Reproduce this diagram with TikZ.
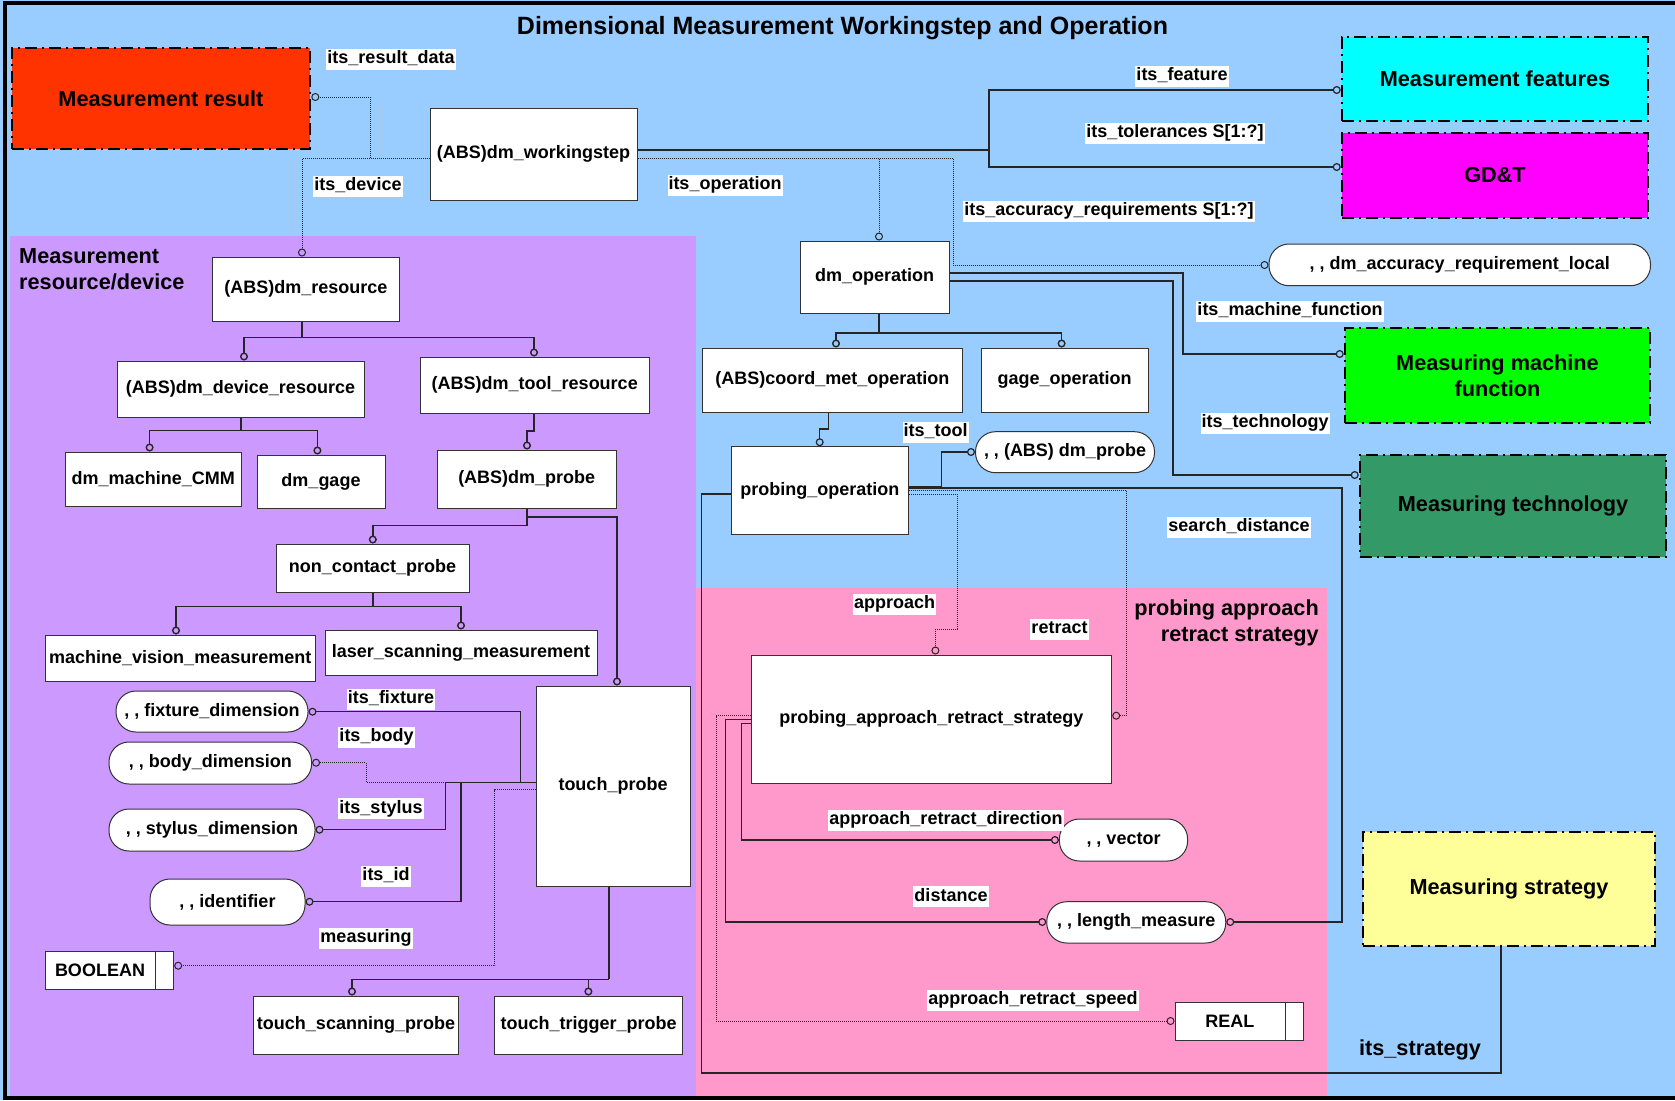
\documentclass[tikz,border=0pt]{standalone}
\usepackage{fontspec}
\setmainfont{Liberation Sans}
\usetikzlibrary{arrows.meta}
\definecolor{bgblue}{HTML}{99CCFF}
\definecolor{bgpurple}{HTML}{CC99FF}
\definecolor{bgpink}{HTML}{FF99CC}
\definecolor{cred}{HTML}{FF3300}
\definecolor{ccyan}{HTML}{00FFFF}
\definecolor{cmag}{HTML}{FF00FF}
\definecolor{cgreen}{HTML}{00FF00}
\definecolor{cdgreen}{HTML}{339966}
\definecolor{cyellow}{HTML}{FFFF99}
\newcommand\fsmallx{\fontsize{18}{21}\selectfont\bfseries}
\newcommand\fbigx{\fontsize{21.7}{26}\selectfont\bfseries}
\newcommand\ftitlex{\fontsize{25}{30}\selectfont\bfseries}
\tikzset{
 box/.style={draw=black!80, fill=white, line width=1pt, inner sep=0pt, font=\fsmallx},
 stad/.style={box, rounded corners=20pt},
 bigbox/.style={draw=black, line width=2.6pt, dash pattern=on 12pt off 5pt on 2pt off 5pt, inner sep=0pt, font=\fbigx, align=center},
 lab/.style={fill=white, inner xsep=1pt, inner ysep=1pt, text height=14pt, text depth=5pt, font=\fsmallx},
 sline/.style={draw=black!85, line width=1.2pt},
 dline/.style={draw=black!85, line width=1pt, dash pattern=on 1pt off 1pt},
 tline/.style={draw=black!85, line width=1.4pt},
 tstem/.style={draw=black!85, line width=2pt},
 cend/.style={-{Circle[open, length=8pt, width=8pt]}},
}
\begin{document}
\begin{tikzpicture}[x=1pt,y=-1pt]
\useasboundingbox (0,0) rectangle (1675,1100);
% backgrounds
\fill[bgblue] (0,0) rectangle (1675,1100);
\fill[bgpurple] (10,236) rectangle (696,1097);
\fill[bgpink] (696,588) rectangle (1327,1097);
\draw[black, line width=4pt] (1675,3) -- (5,3) -- (5,1098) -- (1675,1098);

% title and group labels
\node[font=\ftitlex, anchor=base, inner sep=0pt] (title) at (842.5,34.5) {Dimensional Measurement Workingstep and Operation};
\node[font=\fbigx, align=left, anchor=north west, inner sep=0pt] (grpres) at (19,248) {Measurement\\resource/device};
\node[font=\fbigx, align=right, anchor=north east, inner sep=0pt] (grppars) at (1319,600) {probing approach\\retract strategy};

% big dashed boxes
\node[bigbox, fill=cred, minimum width=298, minimum height=101] (mres) at (161,98.5) {Measurement result};
\node[bigbox, fill=ccyan, minimum width=306, minimum height=84] (mfeat) at (1495,79) {Measurement features};
\node[bigbox, fill=cmag, minimum width=306, minimum height=85] (gdt) at (1495,175.5) {GD\&T};
\node[bigbox, fill=cgreen, minimum width=305, minimum height=95] (mmf) at (1497.5,375.5) {Measuring machine\\function};
\node[bigbox, fill=cdgreen, minimum width=306, minimum height=102] (mtech) at (1513,506) {Measuring technology};
\node[bigbox, fill=cyellow, minimum width=292, minimum height=114] (mstrat) at (1509,889) {Measuring strategy};

% entity boxes
\node[box, minimum width=207, minimum height=92] (ws) at (533.5,154) {(ABS)dm\_workingstep};
\node[box, minimum width=187, minimum height=64] (res) at (306,289) {(ABS)dm\_resource};
\node[box, minimum width=247, minimum height=56] (devres) at (240.5,389) {(ABS)dm\_device\_resource};
\node[box, minimum width=228.5, minimum height=56] (toolres) at (534.75,385) {(ABS)dm\_tool\_resource};
\node[box, minimum width=176.5, minimum height=54] (cmm) at (153.25,479) {dm\_machine\_CMM};
\node[box, minimum width=128, minimum height=53] (gage) at (321,481.5) {dm\_gage};
\node[box, minimum width=179.5, minimum height=58] (probe) at (526.75,479) {(ABS)dm\_probe};
\node[box, minimum width=193, minimum height=48] (ncp) at (372.5,568) {non\_contact\_probe};
\node[box, minimum width=269.5, minimum height=46] (mvm) at (180.25,658) {machine\_vision\_measurement};
\node[box, minimum width=272, minimum height=45] (lsm) at (461,652.5) {laser\_scanning\_measurement};
\node[box, minimum width=154, minimum height=200] (tp) at (613,786) {touch\_probe};
\node[box, minimum width=205, minimum height=58] (tsp) at (356,1025) {touch\_scanning\_probe};
\node[box, minimum width=188, minimum height=58] (ttp) at (588.6,1025) {touch\_trigger\_probe};
\node[box, minimum width=149, minimum height=72] (dmop) at (874.5,277) {dm\_operation};
\node[box, minimum width=259.3, minimum height=64] (cmo) at (832.35,380) {(ABS)coord\_met\_operation};
\node[box, minimum width=167, minimum height=64] (gop) at (1064.5,380) {gage\_operation};
\node[box, minimum width=177.6, minimum height=88] (pop) at (819.8,490.7) {probing\_operation};
\node[box, minimum width=360.7, minimum height=128] (pars) at (931.35,719) {probing\_approach\_retract\_strategy};

% stadium (defined type) boxes
\node[stad, minimum width=192, minimum height=41] (fix) at (212,711.5) {, , fixture\_dimension};
\node[stad, minimum width=202.6, minimum height=42] (body) at (210.3,763) {, , body\_dimension};
\node[stad, minimum width=206, minimum height=42] (styl) at (212,830) {, , stylus\_dimension};
\node[stad, minimum width=155, minimum height=46] (ident) at (227.5,902) {, , identifier};
\node[stad, minimum width=179, minimum height=41] (absprobe) at (1065,452.2) {, , (ABS) dm\_probe};
\node[stad, minimum width=381.5, minimum height=41.7] (acc) at (1459.75,264.85) {, , dm\_accuracy\_requirement\_local};
\node[stad, minimum width=128.2, minimum height=42] (vec) at (1123.5,840) {, , vector};
\node[stad, minimum width=179, minimum height=41.3] (lm) at (1136.25,922.35) {, , length\_measure};

% simple type boxes
\node[box, minimum width=128.2, minimum height=38] (bool) at (109.6,970) {\makebox[109pt]{BOOLEAN}\rule{19.2pt}{0pt}};
\draw[draw=black!80, line width=1pt] ([xshift=-19.2pt]bool.north east) -- ([xshift=-19.2pt]bool.south east);
\node[box, minimum width=128.7, minimum height=38.7] (real) at (1239.35,1021.35) {\makebox[109.7pt]{REAL}\rule{19pt}{0pt}};
\draw[draw=black!80, line width=1pt] ([xshift=-19pt]real.north east) -- ([xshift=-19pt]real.south east);

% ---- connectors from workingstep
\draw[dline, cend] ([yshift=-4pt]ws.west) -| (370,97) -- (mres.east |- 0,97);
\draw[dline, cend] ([yshift=-4pt]ws.west) -| (res.north -| 302,0);
\draw[sline, cend] ([yshift=4pt]ws.east) -| (989,90) -- (mfeat.west |- 0,90);
\draw[sline, cend] ([yshift=4pt]ws.east) -| (989,167) -- (gdt.west |- 0,167);
\draw[dline, cend] ([yshift=-4pt]ws.east) -| (dmop.north -| 879,0);
\draw[dline, cend] ([yshift=-4pt]ws.east) -| (953,265) -- (acc.west |- 0,265);

% ---- from dm_operation
\draw[sline, cend] ([yshift=4pt]dmop.east) -| (1183,354) -- (mmf.west |- 0,354);
\draw[sline, cend] ([yshift=-4pt]dmop.east) -| (1173,475) -- (mtech.west |- 0,475);
\coordinate (opj) at (879,333);
\draw[tstem] (dmop.south -| opj) -- (opj);
\draw[tline, cend] (opj) -| (cmo.north -| 836,0);
\draw[tline, cend] (opj) -| (gop.north -| 1061.6,0);
\draw[sline, cend] (cmo.south -| 828.7,0) -- (828.7,429) -- (819.7,429) -- (pop.north -| 819.7,0);

% ---- from probing_operation
\draw[sline, cend] ([yshift=4pt]pop.east) -| (941.6,452) -- (absprobe.west |- 0,452);
\draw[sline, cend] ([yshift=2.7pt]pop.east) -| (1342,922) -- (lm.east |- 0,922);
\draw[dline, cend] ([yshift=0.7pt]pop.east) -| (1126.4,715.7) -- (pars.east |- 0,715.7);
\draw[dline, cend] ([yshift=-3.3pt]pop.east) -| (957,629) -| (pars.north -| 935.4,0);
\draw[sline] ([yshift=-3.3pt]pop.west) -| (701.4,1073) -| (mstrat.south -| 1501,0);

% ---- from probing_approach_retract_strategy
\draw[dline, cend] ([yshift=3.3pt]pars.west) -| (716,1021) -- (real.west |- 0,1021);
\draw[sline, cend] ([yshift=-0.3pt]pars.west) -| (725.7,922) -- (lm.west |- 0,922);
\draw[sline, cend] ([yshift=-4.7pt]pars.west) -| (741.3,840) -- (vec.west |- 0,840);

% ---- resource tree
\coordinate (rj) at (302,337.7);
\draw[tstem] (res.south -| rj) -- (rj);
\draw[tline, cend] (rj) -| (devres.north -| 244,0);
\draw[tline, cend] (rj) -| (toolres.north -| 534,0);
\coordinate (dj) at (240.6,430.7);
\draw[tstem] (devres.south -| dj) -- (dj);
\draw[tline, cend] (dj) -| (cmm.north -| 149.6,0);
\draw[tline, cend] (dj) -| (gage.north -| 317.4,0);
\draw[tline, cend] (toolres.south -| 534,0) -- (534,431) -- (527,431) -- (probe.north -| 527,0);
\coordinate (pj) at (527,525.7);
\draw[tstem] (probe.south -| pj) -- (pj);
\draw[tline, cend] (pj) -| (ncp.north -| 372.8,0);
\draw[tline, cend] (527,517) -| (tp.north -| 617,0);
\coordinate (nj) at (372.8,606.7);
\draw[tstem] (ncp.south -| nj) -- (nj);
\draw[tline, cend] (nj) -| (mvm.north -| 176,0);
\draw[tline, cend] (nj) -| (lsm.north -| 461,0);
\coordinate (tj) at (609,979.3);
\draw[tstem] (tp.south -| tj) -- (tj);
\draw[tline, cend] (tj) -| (tsp.north -| 352,0);
\draw[tline, cend] (tj) -| (ttp.north -| 588.4,0);

% ---- touch_probe attributes
\draw[sline, cend] ([yshift=3.7pt]tp.west) -| (520.5,711.7) -- (fix.east |- 0,711.7);
\draw[dline, cend] ([yshift=3.7pt]tp.west) -| (366,762.7) -- (body.east |- 0,762.7);
\draw[sline, cend] ([yshift=3.7pt]tp.west) -| (445.5,829.7) -- (styl.east |- 0,829.7);
\draw[sline, cend] ([yshift=3.7pt]tp.west) -| (461,901.7) -- (ident.east |- 0,901.7);
\draw[dline, cend] ([yshift=-3.7pt]tp.west) -| (494.6,965.7) -- (bool.east |- 0,965.7);

% ---- connector labels
\node[lab] (l1) at (391,59) {its\_result\_data};
\node[lab] (l2) at (358,186) {its\_device};
\node[lab] (l3) at (725,185) {its\_operation};
\node[lab] (l4) at (1182,76) {its\_feature};
\node[lab] (l5) at (1175,133) {its\_tolerances S[1:?]};
\node[lab] (l6) at (1109,211) {its\_accuracy\_requirements S[1:?]};
\node[lab] (l7) at (1290,311) {its\_machine\_function};
\node[lab] (l8) at (1265,423) {its\_technology};
\node[lab] (l9) at (935.5,432) {its\_tool};
\node[lab] (l10) at (1239,527) {search\_distance};
\node[lab] (l11) at (894.5,604) {approach};
\node[lab] (l12) at (1059.5,629) {retract};
\node[lab] (l13) at (391,699) {its\_fixture};
\node[lab] (l14) at (376.5,737) {its\_body};
\node[lab] (l15) at (381,808.7) {its\_stylus};
\node[lab] (l16) at (386,876) {its\_id};
\node[lab] (l17) at (366,938) {measuring};
\node[lab] (l18) at (946,820) {approach\_retract\_direction};
\node[lab] (l19) at (951,896.7) {distance};
\node[lab] (l20) at (1033,1000) {approach\_retract\_speed};
\node[font=\fbigx, anchor=base, inner sep=0pt] (l21) at (1420,1055) {its\_strategy};
\end{tikzpicture}
\end{document}
